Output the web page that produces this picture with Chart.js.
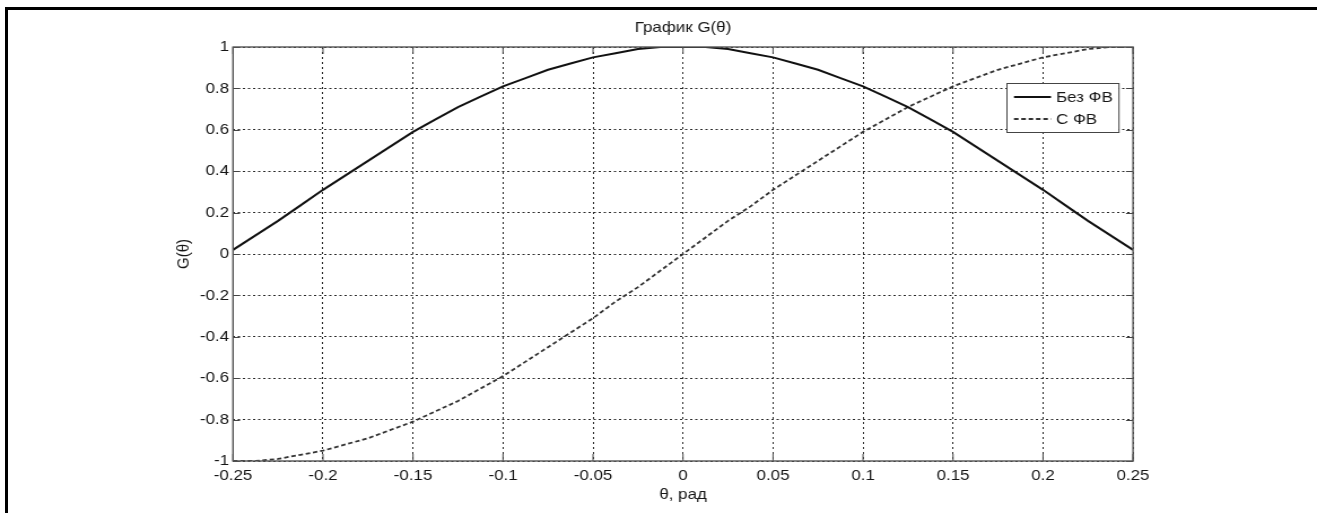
<!DOCTYPE html>
<html lang="ru">
<head>
  <meta charset="UTF-8">
  <title>График G(θ)</title>
  <script src="https://cdn.jsdelivr.net/npm/chart.js"></script>
  <style>
    body {
      margin: 0;
      background: #fff;
      width: 1317px;
      height: 513px;
      overflow: hidden;
      position: relative;
    }
    /* the picture is a bit wider than the original figure, so the canvas is stretched */
    #plot {
      position: absolute;
      left: 0;
      top: 0;
      width: 1317px !important;
      height: 513px !important;
    }
    #frame {
      position: absolute;
      left: 5px;
      top: 7px;
      right: 0;
      bottom: -10px;
      border-top: 3px solid #000;
      border-left: 3px solid #000;
      pointer-events: none;
    }
  </style>
</head>
<body>
  <canvas id="plot" width="1166" height="513"></canvas>
  <div id="frame"></div>

  <script>
    const theta = [-0.25, -0.2375, -0.225, -0.2125, -0.2, -0.1875, -0.175, -0.1625, -0.15, -0.1375,
      -0.125, -0.1125, -0.1, -0.0875, -0.075, -0.0625, -0.05, -0.0375, -0.025, -0.0125, 0,
      0.0125, 0.025, 0.0375, 0.05, 0.0625, 0.075, 0.0875, 0.1, 0.1125, 0.125, 0.1375, 0.15,
      0.1625, 0.175, 0.1875, 0.2, 0.2125, 0.225, 0.2375, 0.25];

    // Без ФВ
    const gNoPhase = [0.02, 0.09, 0.16, 0.235, 0.31, 0.38, 0.45, 0.52, 0.59, 0.65, 0.71, 0.76, 0.81,
      0.85, 0.89, 0.92, 0.95, 0.97, 0.99, 1.00, 1.00, 1.00, 0.99, 0.97, 0.95, 0.92, 0.89, 0.85,
      0.81, 0.76, 0.71, 0.65, 0.59, 0.52, 0.45, 0.38, 0.31, 0.235, 0.16, 0.09, 0.02];

    // С ФВ
    const gPhase = [-1.00, -1.00, -0.99, -0.97, -0.95, -0.92, -0.89, -0.85, -0.81, -0.76, -0.71,
      -0.65, -0.59, -0.52, -0.45, -0.38, -0.31, -0.23, -0.16, -0.08, 0.00, 0.08, 0.16, 0.23, 0.31,
      0.38, 0.45, 0.52, 0.59, 0.65, 0.71, 0.76, 0.81, 0.85, 0.89, 0.92, 0.95, 0.97, 0.99, 1.00, 1.00];

    const seriesNames = ['Без ФВ', 'С ФВ'];
    const xTicks = [-0.25, -0.2, -0.15, -0.1, -0.05, 0, 0.05, 0.1, 0.15, 0.2, 0.25];
    const yTicks = [-1, -0.8, -0.6, -0.4, -0.2, 0, 0.2, 0.4, 0.6, 0.8, 1];

    const FONT = 'Liberation Sans, Arial, Helvetica, sans-serif';
    const TEXT = '#161616';

    // matlab style: axes box, inward ticks and a legend inside the plot
    const matlabAxes = {
      id: 'matlabAxes',
      afterDatasetsDraw(chart) {
        const { ctx, chartArea: a, scales } = chart;
        ctx.save();
        ctx.strokeStyle = '#444';
        ctx.lineWidth = 1;
        ctx.setLineDash([]);
        ctx.beginPath();
        yTicks.forEach(v => {
          const py = Math.round(scales.y.getPixelForValue(v)) + 0.5;
          ctx.moveTo(a.left, py); ctx.lineTo(a.left + 6.2, py);
          ctx.moveTo(a.right, py); ctx.lineTo(a.right - 6.2, py);
        });
        xTicks.forEach(v => {
          const px = scales.x.getPixelForValue(v);
          ctx.moveTo(px, a.bottom); ctx.lineTo(px, a.bottom - 7);
          ctx.moveTo(px, a.top); ctx.lineTo(px, a.top + 7);
        });
        ctx.stroke();
        ctx.strokeStyle = '#555';
        ctx.lineWidth = 1.4;
        ctx.strokeRect(a.left, a.top, a.right - a.left, a.bottom - a.top);
        ctx.restore();
      },
      afterDraw(chart) {
        const { ctx, chartArea: a } = chart;
        const w = 99.2, h = 49;
        const bx = a.right - 12.4 - w, by = a.top + 36;
        ctx.save();
        ctx.fillStyle = '#fff';
        ctx.fillRect(bx, by, w, h);
        ctx.strokeStyle = '#444';
        ctx.lineWidth = 1;
        ctx.strokeRect(bx, by + 0.5, w, h);
        ctx.font = '15px ' + FONT;
        ctx.textBaseline = 'middle';
        chart.data.datasets.forEach((ds, i) => {
          const ly = by + 14 + i * 22;
          ctx.strokeStyle = ds.borderColor;
          ctx.lineWidth = ds.borderWidth;
          ctx.setLineDash(ds.borderDash || []);
          ctx.beginPath();
          ctx.moveTo(bx + 6.2, ly);
          ctx.lineTo(bx + 39, ly);
          ctx.stroke();
          ctx.fillStyle = TEXT;
          ctx.fillText(ds.label, bx + 43.4, ly + 1);
        });
        ctx.restore();
      }
    };

    const tickFont = { family: FONT, size: 15 };

    new Chart(document.getElementById('plot'), {
      type: 'line',
      data: {
        datasets: [{
          label: seriesNames[0],
          data: theta.map((t, i) => ({ x: t, y: gNoPhase[i] })),
          borderColor: '#111',
          borderWidth: 2,
          pointRadius: 0,
          tension: 0
        }, {
          label: seriesNames[1],
          data: theta.map((t, i) => ({ x: t, y: gPhase[i] })),
          borderColor: '#333',
          borderWidth: 1.8,
          borderDash: [4, 2.5],
          pointRadius: 0,
          tension: 0
        }]
      },
      options: {
        responsive: false,
        animation: false,
        devicePixelRatio: 1,
        layout: { padding: { left: 0, right: 162.9, top: 0, bottom: 0 } },
        plugins: {
          legend: { display: false },
          tooltip: { enabled: false },
          title: {
            display: true,
            text: 'График G(θ)',
            fullSize: false,
            color: TEXT,
            font: { family: FONT, size: 15, weight: 'normal' },
            padding: { top: 19, bottom: 10 }
          }
        },
        scales: {
          x: {
            type: 'linear',
            min: -0.25,
            max: 0.25,
            afterBuildTicks: s => { s.ticks = xTicks.map(v => ({ value: v })); },
            afterFit: s => { s.height = 52; },
            grid: { color: '#2a2a2a', lineWidth: 1, drawTicks: false },
            border: { display: false, dash: [2, 3] },
            ticks: { padding: 6, color: TEXT, font: tickFont, maxRotation: 0, callback: v => String(v) },
            title: {
              display: true, text: 'θ, рад', color: TEXT,
              font: { family: FONT, size: 15 }, padding: { top: 0, bottom: 9 }
            }
          },
          y: {
            min: -1,
            max: 1,
            afterBuildTicks: s => { s.ticks = yTicks.map(v => ({ value: v })); },
            afterFit: s => { s.width = 206.3; },
            grid: { color: '#2a2a2a', lineWidth: 1, drawTicks: false },
            border: { display: false, dash: [2, 2.5] },
            ticks: { padding: 3.5, color: TEXT, font: tickFont, callback: v => String(v) },
            title: {
              display: true, text: 'G(θ)', color: TEXT,
              font: { family: FONT, size: 15 }, padding: { top: 154.3, bottom: 0 }
            }
          }
        }
      },
      plugins: [matlabAxes]
    });
  </script>
</body>
</html>
